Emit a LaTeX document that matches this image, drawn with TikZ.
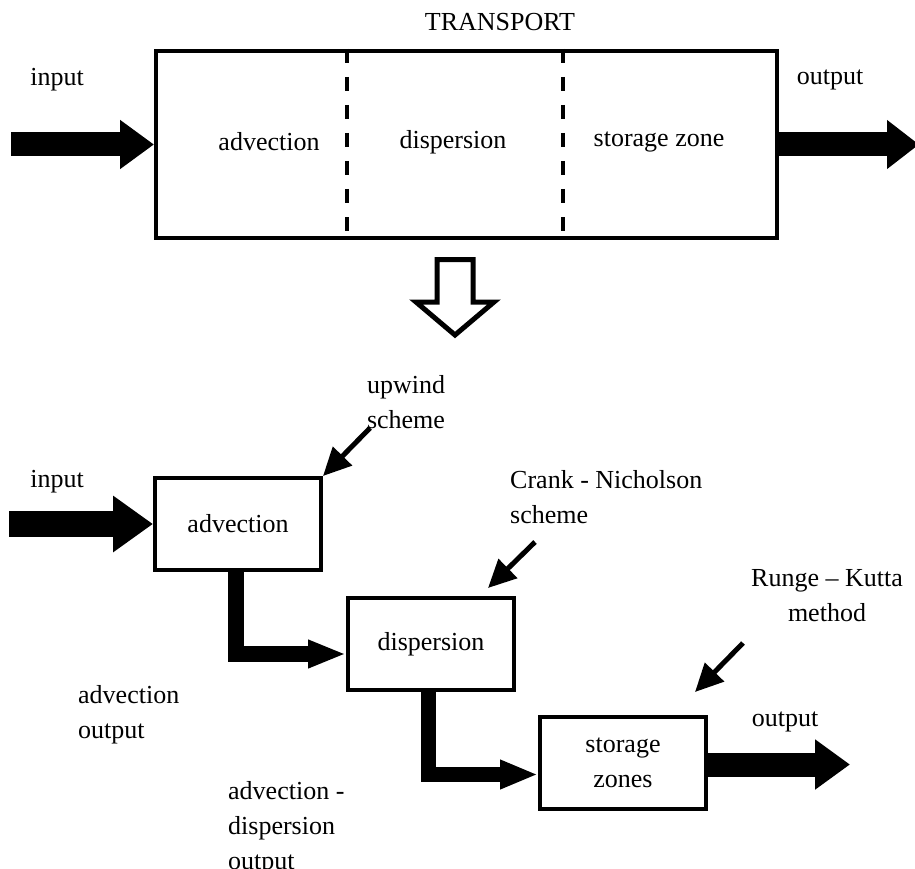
\documentclass[tikz,border=0pt]{standalone}
\usepackage{fontspec}
\setmainfont{Liberation Serif}
\usetikzlibrary{arrows.meta}
\begin{document}
\begin{tikzpicture}[x=1pt,y=-1pt,
  lbl/.style={inner sep=0pt, font=\fontsize{26}{35}\selectfont},
  box/.style={draw, line width=4pt, minimum width=166pt, minimum height=92pt, inner sep=0pt, font=\fontsize{26}{35}\selectfont, align=center},
  divider/.style={line width=3.5pt, dash pattern=on 14pt off 14pt},
  thinarrow/.style={line width=5pt, -{Triangle[width=26pt,length=28pt]}},
  fatarrow/.style={line width=#1, line join=miter}
]
\useasboundingbox (0,0) rectangle (915,869);

% ---------- top part ----------
\node[draw, line width=4pt, minimum width=621pt, minimum height=187pt, inner sep=0pt] (transport) at (466.5,144.5) {};
\node[lbl] (title) at (500,22) {TRANSPORT};
\node[lbl] (tadv) at (269,142) {advection};
\node[lbl] (tdisp) at (453,142) {dispersion};
\node[lbl] (tstor) at (659,142) {storage zone};
\draw[divider] (347,0 |- transport.north) -- (347,0 |- transport.south);
\draw[divider] (563,0 |- transport.north) -- (563,0 |- transport.south);

\node[lbl] (inlbl1) at (57,80) {input};
\node[lbl] (outlbl1) at (830,80) {output};
\coordinate (in1) at (11,144.5);
\coordinate (out1) at (919,144.5);
\draw[fatarrow=24pt, -{Triangle[width=47pt,length=34pt]}] (in1) -- (transport.west);
\draw[fatarrow=24pt, -{Triangle[width=47pt,length=32pt]}] (transport.east) -- (out1);

% hollow down arrow
\draw[line width=5pt, line join=miter] (437,259.5) -- (437,302) -- (416,302) -- (455,335) -- (494,302) -- (473,302) -- (473,259.5) -- cycle;

% ---------- lower part ----------
\node[box] (adv) at (238,524) {advection};
\node[box] (disp) at (431,644) {dispersion};
\node[box] (stor) at (623,762.5) {storage\\zones};

\node[lbl] (inlbl2) at (57,482) {input};
\node[lbl] (outlbl2) at (785,722) {output};
\node[lbl, align=center] (upw) at (406,402.5) {upwind\\scheme};
\node[lbl, align=left, anchor=west] (crank) at (510,497.5) {Crank - Nicholson\\scheme};
\node[lbl, align=center] (rk) at (827,595.5) {Runge – Kutta\\method};
\node[lbl, align=left, anchor=west] (advout) at (78,715) {advection\\output};
\node[lbl, align=left, anchor=west] (adout) at (228,828) {advection -\\dispersion\\output};

\coordinate (in2) at (9,524);
\coordinate (out2) at (850,764.5);
\draw[fatarrow=26pt, -{Triangle[width=54pt,length=40pt]}] (in2) -- (adv.west);
\draw[fatarrow=16pt, -{Triangle[width=26pt,length=38pt]}] (adv.south -| 236,0) |- ([yshift=-10pt]disp.west);
\draw[fatarrow=15pt, -{Triangle[width=27pt,length=38pt]}] (disp.south -| 428,0) |- ([yshift=-12pt]stor.west);
\draw[fatarrow=24pt, -{Triangle[width=48pt,length=35pt]}] ([yshift=-2pt]stor.east) -- (out2);

\coordinate (upwtail) at (370,428);
\coordinate (cntail) at (535,542);
\coordinate (cntip) at (488,588);
\coordinate (rktail) at (743,643);
\coordinate (rktip) at (695,692);
\draw[thinarrow] (upwtail) -- (adv.north east);
\draw[thinarrow] (cntail) -- (cntip);
\draw[thinarrow] (rktail) -- (rktip);
\end{tikzpicture}
\end{document}
